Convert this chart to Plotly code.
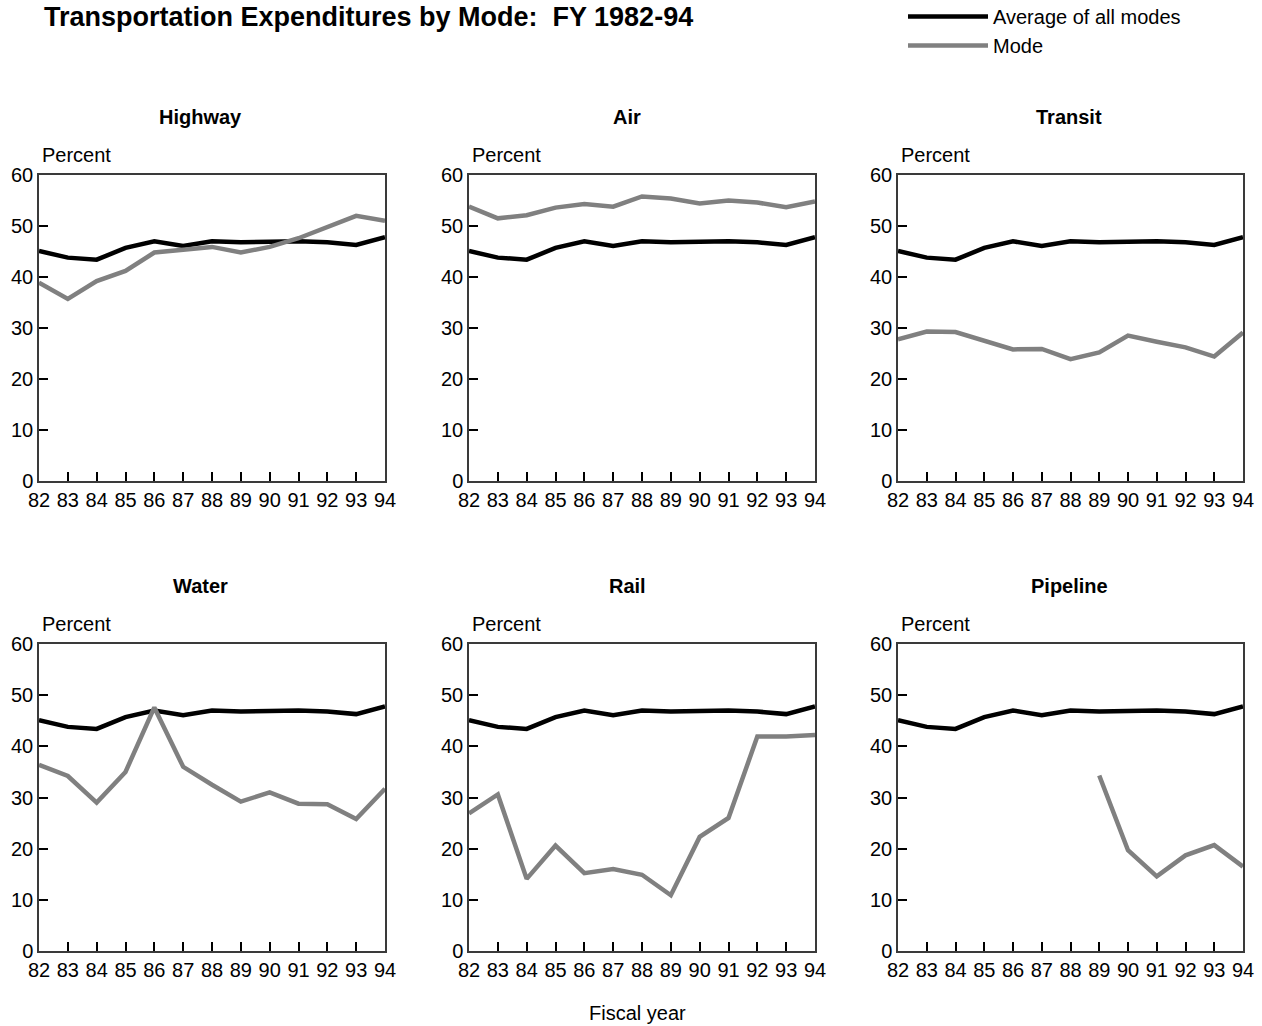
import plotly.graph_objects as go

W, H = 1262, 1026

years = [82, 83, 84, 85, 86, 87, 88, 89, 90, 91, 92, 93, 94]
tick_labels = ["82", "83", "84", "85", "86", "87", "88", "89", "90", "91", "92", "93", "94"]
y_ticks = [0, 10, 20, 30, 40, 50, 60]

average = [45.1, 43.8, 43.4, 45.7, 47.0, 46.1, 47.0, 46.8, 46.9, 47.0, 46.8, 46.3, 47.8]

highway = [38.9, 35.7, 39.2, 41.2, 44.8, 45.3, 45.9, 44.8, 45.9, 47.6, 49.9, 52.0, 51.0]
air = [53.8, 51.5, 52.1, 53.6, 54.3, 53.8, 55.8, 55.4, 54.4, 55.0, 54.6, 53.7, 54.8]
transit = [27.8, 29.3, 29.2, 27.6, 25.8, 25.9, 23.9, 25.2, 28.5, 27.3, 26.2, 24.4, 29.1]
water = [36.4, 34.2, 29.0, 35.0, 47.6, 36.0, 32.5, 29.2, 31.0, 28.8, 28.7, 25.8, 31.7]
rail = [26.9, 30.6, 14.1, 20.6, 15.2, 16.0, 14.9, 10.9, 22.3, 26.0, 41.9, 41.9, 42.2]
pipeline = [None, None, None, None, None, None, None, 34.3, 19.7, 14.6, 18.7, 20.7, 16.5]

panel_names = ["Highway", "Air", "Transit", "Water", "Rail", "Pipeline"]
panel_values = [highway, air, transit, water, rail, pipeline]

title_text = "Transportation Expenditures by Mode:  FY 1982-94"
legend_names = ["Average of all modes", "Mode"]
y_label = "Percent"
x_label = "Fiscal year"

FONT = "Liberation Sans, Arial, Helvetica, sans-serif"

# Pixel layout of the panels
col_px = [(39, 385), (469, 815), (898, 1243)]
row_px = [(175, 481), (644, 951)]
title_px_x = [200, 627, 1069]


def px_x(v):
    return v / W


def px_y(v):
    return 1 - v / H


fig = go.Figure()
annotations = []

for i, (name, vals) in enumerate(zip(panel_names, panel_values)):
    r, c = divmod(i, 3)
    n = i + 1
    xa = "x" if n == 1 else f"x{n}"
    ya = "y" if n == 1 else f"y{n}"
    x0, x1 = col_px[c]
    y0, y1 = row_px[r]
    fig.add_trace(go.Scatter(
        x=years, y=average, mode="lines", name=legend_names[0],
        line=dict(color="#000000", width=4.5), xaxis=xa, yaxis=ya,
        showlegend=(i == 0), legendrank=1, connectgaps=False,
        hoverinfo="skip"))
    fig.add_trace(go.Scatter(
        x=years, y=vals, mode="lines", name=legend_names[1],
        line=dict(color="#808080", width=4.5), xaxis=xa, yaxis=ya,
        showlegend=(i == 0), legendrank=2, connectgaps=False,
        hoverinfo="skip"))

    axis_common = dict(
        showgrid=False, zeroline=False, showline=True, linecolor="#3a3a3a",
        linewidth=1.5, mirror=True, ticks="inside", ticklen=9, tickwidth=1.8,
        tickcolor="#000000", tickfont=dict(family=FONT, size=20, color="#000000"),
        fixedrange=True, automargin=False)
    fig.update_layout(**{
        ("xaxis" if n == 1 else f"xaxis{n}"): dict(
            axis_common, domain=[px_x(x0), px_x(x1)], range=[82, 94],
            tickmode="array", tickvals=years, ticktext=tick_labels,
            anchor=ya),
        ("yaxis" if n == 1 else f"yaxis{n}"): dict(
            axis_common, domain=[px_y(y1), px_y(y0)], range=[0, 60],
            tickmode="array", tickvals=y_ticks,
            ticktext=[str(v) for v in y_ticks],
            anchor=xa),
    })
    # panel title
    annotations.append(dict(
        x=px_x(title_px_x[c]), y=px_y(y0 - 58), xref="paper", yref="paper",
        text=f"<b>{name}</b>", showarrow=False, xanchor="center", yanchor="middle",
        font=dict(family=FONT, size=20, color="#000000")))
    # "Percent" label
    annotations.append(dict(
        x=px_x(x0 + 1), y=px_y(y0 - 20), xref="paper", yref="paper",
        text=y_label, showarrow=False, xanchor="left", yanchor="middle",
        font=dict(family=FONT, size=20, color="#000000")))

annotations.append(dict(
    x=px_x(42), y=1, xref="paper", yref="paper",
    text=f"<b>{title_text}</b>", showarrow=False, xanchor="left", yanchor="top",
    font=dict(family=FONT, size=27, color="#000000")))
annotations.append(dict(
    x=px_x(637), y=px_y(1013), xref="paper", yref="paper",
    text=x_label, showarrow=False, xanchor="center", yanchor="middle",
    font=dict(family=FONT, size=20, color="#000000")))

fig.update_layout(
    width=W, height=H,
    margin=dict(l=0, r=0, t=0, b=0, autoexpand=False),
    paper_bgcolor="white", plot_bgcolor="white",
    annotations=annotations,
    showlegend=True,
    legend=dict(
        x=px_x(903), y=px_y(-3), xanchor="left", yanchor="top",
        bgcolor="rgba(0,0,0,0)", borderwidth=0,
        font=dict(family=FONT, size=20, color="#000000"),
        itemwidth=80, traceorder="normal"),
)

fig.write_html(
    "out.html",
    config={"displayModeBar": False},
    post_script="document.body.style.margin='0px';document.body.style.overflow='hidden';",
)
